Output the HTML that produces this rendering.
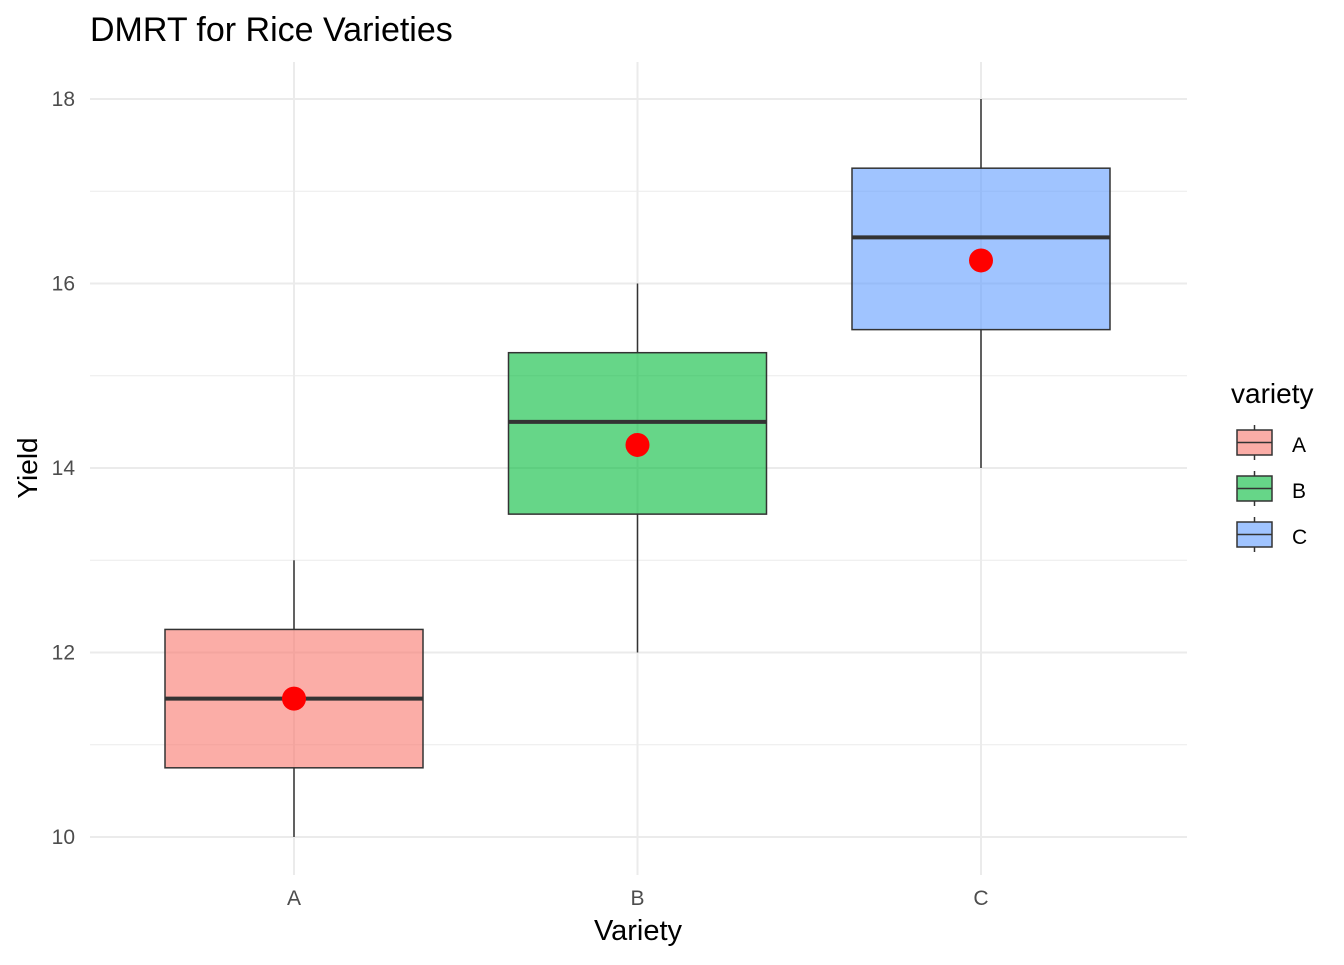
<!DOCTYPE html>
<html><head><meta charset="utf-8"><style>
body{margin:0;background:#fff;}
svg text{font-family:"Liberation Sans",Arial,sans-serif;}
</style></head><body>
<svg id="chart" width="1344" height="960" viewBox="0 0 1344 960" xmlns="http://www.w3.org/2000/svg">
<text x="90" y="41" font-size="34" fill="#000">DMRT for Rice Varieties</text>
<g id="grid"></g>
<g id="boxes"></g>
<g id="axes"></g>
<text x="638" y="940" font-size="29" text-anchor="middle" fill="#000">Variety</text>
<text transform="translate(37,468) rotate(-90)" font-size="28" text-anchor="middle" fill="#000">Yield</text>
<g id="legend">
<text x="1231" y="403" font-size="28" fill="#000">variety</text>
</g>
</svg>
<script>
const categories = ['A','B','C'];
const whiskerLow = [10, 12, 14];
const q1 = [10.75, 13.5, 15.5];
const medians = [11.5, 14.5, 16.5];
const q3 = [12.25, 15.25, 17.25];
const whiskerHigh = [13, 16, 18];
const means = [11.5, 14.25, 16.25];
const yTicks = [10, 12, 14, 16, 18];
const colors = ['#F8766D','#00BA38','#619CFF'];

const NS='http://www.w3.org/2000/svg';
const panelL=90, panelR=1187, panelT=62, panelB=875;
const y = v => 837 - (v-10)*92.25;
const x = i => 294 + i*343.5;
const halfW = 129;
function mk(tag, attrs, parent){const e=document.createElementNS(NS,tag);for(const k in attrs)e.setAttribute(k,attrs[k]);parent.appendChild(e);return e;}
const grid=document.getElementById('grid'), boxes=document.getElementById('boxes'), axes=document.getElementById('axes'), legend=document.getElementById('legend');

for(let v=11; v<18; v+=2){
  const l=mk('line',{x1:panelL,x2:panelR,y1:y(v),y2:y(v),stroke:'#ebebeb','stroke-width':1},grid);
  
  
}
yTicks.forEach(v=>{
  const l=mk('line',{x1:panelL,x2:panelR,y1:y(v),y2:y(v),stroke:'#ebebeb','stroke-width':2},grid);
  
  
  const t=mk('text',{x:75,y:y(v)+7,'font-size':21,'text-anchor':'end',fill:'#4d4d4d'},axes);
  t.textContent=v;
  
  
});
categories.forEach((c,i)=>{
  const l=mk('line',{x1:x(i),x2:x(i),y1:panelT,y2:panelB,stroke:'#ebebeb','stroke-width':2},grid);
  
  
  const t=mk('text',{x:x(i),y:905,'font-size':21,'text-anchor':'middle',fill:'#4d4d4d'},axes);
  t.textContent=c;
  
  

  const g=mk('g',{},boxes);
  
  
  mk('line',{x1:x(i),x2:x(i),y1:y(whiskerHigh[i]),y2:y(q3[i]),stroke:'#333','stroke-width':1.5},g);
  mk('line',{x1:x(i),x2:x(i),y1:y(q1[i]),y2:y(whiskerLow[i]),stroke:'#333','stroke-width':1.5},g);
  mk('rect',{x:x(i)-halfW,y:y(q3[i]),width:2*halfW,height:y(q1[i])-y(q3[i]),fill:colors[i],'fill-opacity':0.6,stroke:'#333','stroke-width':1.5},g);
  mk('line',{x1:x(i)-halfW,x2:x(i)+halfW,y1:y(medians[i]),y2:y(medians[i]),stroke:'#333','stroke-width':4},g);
  const m=mk('circle',{cx:x(i),cy:y(means[i]),r:12,fill:'#ff0000'},boxes);
  
  

  const ly=430+i*46;
  const lg=mk('g',{},legend);
  
  
  mk('line',{x1:1254.5,x2:1254.5,y1:ly-5,y2:ly+30,stroke:'#333','stroke-width':1.5},lg);
  mk('rect',{x:1237,y:ly,width:35,height:25,fill:'#fff'},lg);
  mk('rect',{x:1237,y:ly,width:35,height:25,fill:colors[i],'fill-opacity':0.6,stroke:'#333','stroke-width':1.5},lg);
  mk('line',{x1:1237,x2:1272,y1:ly+12.5,y2:ly+12.5,stroke:'#333','stroke-width':1.5},lg);
  const lt=mk('text',{x:1292,y:ly+22,'font-size':21,fill:'#000'},lg);
  lt.textContent=c;
});
</script>
</body></html>
